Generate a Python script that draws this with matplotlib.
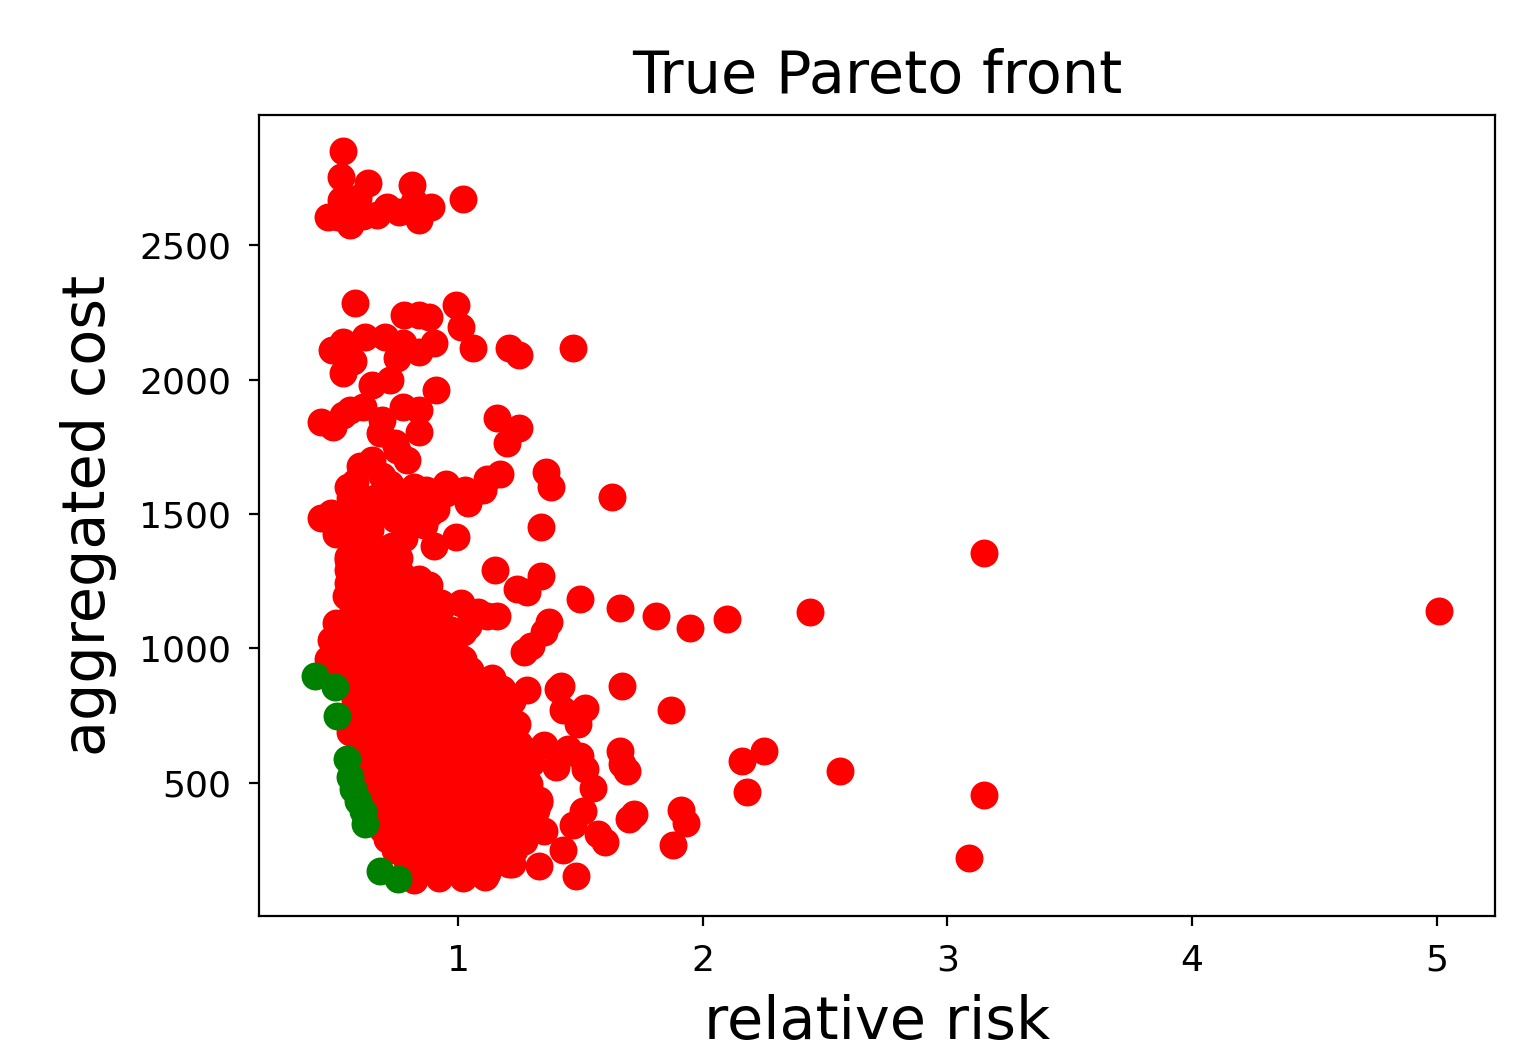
import numpy as np
import matplotlib
matplotlib.use("Agg")
import matplotlib.pyplot as plt

# ---- all candidate solutions (red) ----
# upper band
risk_top = [0.53, 0.52, 0.63, 0.81, 1.02, 0.47, 0.52, 0.56, 0.67, 0.71, 0.76, 0.84, 0.89, 0.82,
            0.51, 0.59, 0.55, 0.61]
cost_top = [2849, 2752, 2730, 2723, 2671, 2604, 2667, 2574, 2611, 2641, 2622, 2593, 2641, 2660,
            2604, 2674, 2640, 2610]

# band around 2000-2300
risk_mid_hi = [0.58, 0.78, 0.84, 0.88, 0.99, 1.01, 1.06, 1.21, 1.25, 1.47,
               0.485, 0.53, 0.62, 0.70, 0.775, 0.84, 0.90, 0.75, 0.53, 0.65, 0.72, 0.91, 0.57]
cost_mid_hi = [2285, 2240, 2240, 2233, 2277, 2196, 2118, 2118, 2092, 2118,
               2110, 2140, 2158, 2158, 2136, 2103, 2136, 2080, 2025, 1980, 1999, 1962, 2070]

# band around 1750-1900
risk_18 = [0.44, 0.49, 0.56, 0.61, 0.69, 0.68, 0.775, 0.84, 0.84, 0.74, 1.16, 1.25, 1.20, 0.53]
cost_18 = [1843, 1825, 1888, 1899, 1850, 1802, 1899, 1888, 1806, 1765, 1858, 1821, 1765, 1870]

# band around 1350-1700
risk_15 = [0.44, 0.48, 0.50, 0.55, 0.56, 0.58, 0.60, 0.65, 0.72, 0.75, 0.79, 0.82, 0.85, 0.88,
           0.82, 0.78, 0.70, 0.67, 0.62, 0.55, 0.60, 0.66, 0.74, 0.77, 0.86, 0.91, 0.69, 0.53,
           0.57, 0.95, 0.90, 0.99, 1.03, 1.04, 1.10, 1.12, 1.17, 1.36, 1.38, 1.34, 1.63, 0.64,
           0.73, 0.80, 0.58, 0.87, 0.95]
cost_15 = [1485, 1505, 1425, 1600, 1560, 1450, 1680, 1700, 1610, 1740, 1700, 1600, 1560, 1500,
           1470, 1410, 1520, 1350, 1400, 1340, 1500, 1560, 1480, 1550, 1460, 1520, 1640, 1480,
           1380, 1610, 1380, 1415, 1590, 1540, 1590, 1630, 1650, 1655, 1600, 1450, 1565, 1440,
           1380, 1530, 1620, 1590, 1580]

# band around 1000-1350
risk_11 = [0.55, 0.62, 0.68, 0.76, 0.55, 0.63, 0.71, 0.77, 0.84, 0.55, 0.62, 0.69, 0.75, 0.82,
           0.88, 0.54, 0.60, 0.67, 0.74, 0.80, 0.87, 0.93, 0.57, 0.64, 0.71, 0.78, 0.85, 0.93,
           1.01, 1.08, 0.50, 0.58, 0.66, 0.74, 0.82, 0.90, 0.97, 1.04, 1.12, 0.48, 0.55, 0.62,
           0.70, 0.78, 0.86, 0.95, 1.02, 0.52, 0.60, 0.68, 0.76, 0.84, 0.92, 0.99, 1.16, 1.15,
           1.24, 1.28, 1.34, 1.35, 1.37, 1.27, 1.30]
cost_11 = [1330, 1320, 1345, 1335, 1290, 1280, 1300, 1275, 1260, 1245, 1230, 1250, 1235, 1220,
           1235, 1195, 1180, 1190, 1200, 1185, 1190, 1170, 1150, 1145, 1135, 1155, 1140, 1150,
           1170, 1135, 1095, 1090, 1080, 1110, 1085, 1095, 1070, 1085, 1120, 1030, 1045, 1040,
           1025, 1050, 1035, 1040, 1060, 1000, 990, 1010, 995, 1005, 990, 980, 1120, 1290,
           1220, 1210, 1270, 1060, 1100, 985, 1010]

# dense block 140-1000
risk_dense = [0.47, 0.56, 0.64, 0.72, 0.80, 0.86, 0.94, 1.02,
              0.52, 0.60, 0.68, 0.77, 0.84, 0.91, 0.99, 1.05,
              0.55, 0.63, 0.70, 0.79, 0.88, 0.96, 1.03, 1.14,
              0.56, 0.62, 0.69, 0.75, 0.83, 0.90, 0.97, 1.06, 1.12, 1.18,
              0.58, 0.65, 0.72, 0.80, 0.87, 0.94, 1.01, 1.09, 1.16, 1.22,
              0.57, 0.63, 0.70, 0.77, 0.85, 0.92, 0.98, 1.05, 1.12, 1.20,
              0.60, 0.67, 0.74, 0.81, 0.88, 0.95, 1.03, 1.10, 1.18, 1.24,
              0.56, 0.62, 0.69, 0.76, 0.83, 0.91, 0.99, 1.07, 1.14, 1.22,
              0.60, 0.66, 0.73, 0.80, 0.87, 0.94, 1.02, 1.09, 1.16, 1.25,
              0.62, 0.68, 0.75, 0.82, 0.89, 0.97, 1.04, 1.12, 1.20, 1.28,
              0.63, 0.70, 0.77, 0.84, 0.92, 0.99, 1.07, 1.15, 1.23, 1.30,
              0.62, 0.68, 0.74, 0.81, 0.88, 0.95, 1.02, 1.10, 1.18, 1.26,
              0.64, 0.71, 0.78, 0.86, 0.93, 1.00, 1.08, 1.15, 1.22, 1.29,
              0.65, 0.72, 0.79, 0.85, 0.92, 0.98, 1.05, 1.12, 1.20, 1.27, 1.33,
              0.66, 0.73, 0.80, 0.88, 0.95, 1.03, 1.10, 1.17, 1.24, 1.30,
              0.67, 0.74, 0.81, 0.87, 0.94, 1.01, 1.08, 1.15, 1.22, 1.28,
              0.69, 0.76, 0.83, 0.90, 0.97, 1.04, 1.12, 1.19, 1.25, 1.31,
              0.71, 0.78, 0.85, 0.92, 0.99, 1.06, 1.13, 1.20, 1.27,
              0.74, 0.81, 0.88, 0.95, 1.02, 1.09, 1.16, 1.23,
              0.79, 0.86, 0.93, 1.00, 1.07, 1.14, 1.21,
              0.84, 0.90, 0.97, 1.05, 1.12,
              0.82, 0.92, 1.02, 1.11, 0.75, 1.33, 1.22]
cost_dense = [960, 950, 965, 945, 955, 970, 950, 960,
              925, 935, 920, 930, 940, 925, 935, 920,
              890, 880, 895, 885, 880, 890, 875, 890,
              850, 845, 860, 840, 855, 850, 845, 855, 840, 850,
              810, 815, 800, 820, 805, 815, 810, 800, 815, 805,
              770, 765, 775, 760, 770, 780, 765, 770, 760, 775,
              730, 725, 740, 730, 720, 735, 725, 740, 730, 720,
              690, 695, 680, 690, 700, 685, 690, 680, 695, 690,
              650, 655, 640, 650, 660, 645, 650, 640, 655, 645,
              610, 615, 600, 610, 620, 605, 615, 600, 610, 620,
              570, 575, 565, 580, 570, 560, 575, 565, 570, 575,
              530, 525, 540, 530, 520, 535, 530, 540, 525, 530,
              490, 495, 485, 490, 500, 480, 495, 490, 485, 495,
              450, 455, 445, 460, 450, 440, 455, 445, 450, 455, 435,
              410, 415, 405, 410, 420, 405, 415, 400, 410, 405,
              370, 375, 365, 380, 370, 360, 375, 365, 370, 375,
              330, 335, 325, 330, 340, 325, 335, 330, 320, 330,
              290, 295, 285, 290, 300, 285, 295, 290, 285,
              250, 255, 245, 250, 260, 245, 255, 250,
              210, 215, 205, 210, 220, 205, 200,
              175, 170, 180, 175, 165,
              140, 145, 145, 150, 266, 192, 200]

# scattered points on the right
risk_right = [1.50, 1.66, 1.81, 1.95, 2.10, 2.44, 3.15, 5.01,
              1.42, 1.41, 1.28, 1.67, 1.87, 1.43, 1.49, 1.52, 1.35, 1.45, 1.50, 1.40, 1.52,
              1.66, 1.67, 1.69, 2.16, 2.25, 2.56, 2.18, 3.15, 3.09,
              1.55, 1.51, 1.47, 1.57, 1.60, 1.70, 1.72, 1.91, 1.93, 1.88, 1.43, 1.48,
              1.32, 1.33, 1.35]
cost_right = [1185, 1150, 1120, 1075, 1110, 1135, 1355, 1140,
              860, 850, 845, 860, 770, 770, 720, 780, 640, 625, 600, 560, 550,
              620, 570, 545, 580, 620, 545, 465, 455, 220,
              480, 395, 345, 310, 280, 365, 385, 400, 350, 270, 250, 155,
              400, 430, 320]

# ---- Pareto-optimal solutions (green) ----
risk_pareto = [0.416, 0.497, 0.506, 0.547, 0.56, 0.571, 0.59, 0.61, 0.62, 0.68, 0.755]
cost_pareto = [897, 856, 749, 589, 522, 478, 433, 396, 348, 173, 144]

risk_all = risk_top + risk_mid_hi + risk_18 + risk_15 + risk_11 + risk_dense + risk_right
cost_all = cost_top + cost_mid_hi + cost_18 + cost_15 + cost_11 + cost_dense + cost_right

fig = plt.figure(figsize=(7.665, 5.255), dpi=200)
ax = fig.add_axes([0.169, 0.1284, 0.8063, 0.7622])

ax.scatter(risk_all, cost_all, c='r', s=82)
ax.scatter(risk_pareto, cost_pareto, c='g', s=82)

ax.set_xticks([1, 2, 3, 4, 5])
ax.set_yticks([500, 1000, 1500, 2000, 2500])
ax.tick_params(labelsize=13, pad=6.5)
ax.set_xlabel("relative risk", fontsize=21.2, labelpad=6)
ax.set_ylabel("aggregated cost", fontsize=21.2, labelpad=8)
ax.set_title("True Pareto front", fontsize=21.2, pad=8)

fig.savefig("out.png", dpi=200)
